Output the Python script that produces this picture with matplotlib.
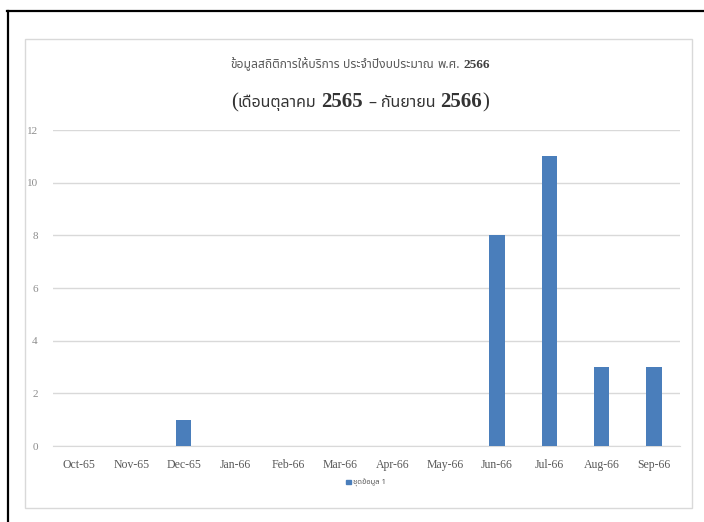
import matplotlib
matplotlib.use('Agg')
import matplotlib.pyplot as plt
from matplotlib import font_manager
from matplotlib.patches import Rectangle
from matplotlib.lines import Line2D

# ข้อมูลจากกราฟ
เดือน = ['Oct-65', 'Nov-65', 'Dec-65', 'Jan-66', 'Feb-66', 'Mar-66',
         'Apr-66', 'May-66', 'Jun-66', 'Jul-66', 'Aug-66', 'Sep-66']
จำนวน = [0, 0, 1, 0, 0, 0, 0, 0, 8, 11, 3, 3]
ชื่อชุดข้อมูล = 'ชุดข้อมูล 1'
ค่าแกนy = [0, 2, 4, 6, 8, 10, 12]
# หัวเรื่อง แยกเป็นส่วนภาษาไทยกับตัวเลข (None = ช่องว่าง)
หัวเรื่อง1 = ['ข้อมูลสถิติการให้บริการ', None, 'ประจำปีงบประมาณ', None, 'พ.ศ.', None, '2566']
หัวเรื่อง2 = ['(', 'เดือนตุลาคม', None, '2565', None, '–', None, 'กันยายน', None, '2566', ')']

# หาฟอนต์ที่มีอักษรไทย
def หาฟอนต์ไทย():
    พบ = []
    for f in font_manager.fontManager.ttflist:
        try:
            if 0x0E01 in font_manager.get_font(f.fname).get_charmap():
                พบ.append(f.name)
        except Exception:
            pass
    for ชื่อ in ['Noto Sans Thai', 'Noto Serif Thai', 'Sarabun', 'Loma', 'Garuda', 'Tlwg Typo']:
        if ชื่อ in พบ:
            return ชื่อ
    return พบ[0] if พบ else 'DejaVu Sans'

ฟอนต์ไทย = [หาฟอนต์ไทย(), 'DejaVu Sans']

fig = plt.figure(figsize=(7.04, 5.22), dpi=100)
W, H = 704, 522

def px(x, y):
    return x / W, 1 - y / H

# กรอบดำด้านบนและซ้าย
fig.add_artist(Line2D([7 / W, 1], [1 - 11 / H, 1 - 11 / H], color='black', lw=1.6, transform=fig.transFigure))
fig.add_artist(Line2D([8 / W, 8 / W], [0, 1 - 11 / H], color='black', lw=1.6, transform=fig.transFigure))
# กรอบเทาของแผนภูมิ
fig.add_artist(Rectangle(px(25, 508), (692 - 25) / W, (508 - 39) / H, fill=False,
                         edgecolor='#d9d9d9', lw=1, transform=fig.transFigure))

ax = fig.add_axes([53 / W, 1 - 446 / H, (680 - 53) / W, (446 - 130) / H])
x = range(len(เดือน))
ax.bar(x, จำนวน, width=0.3, color='#4a7ebb', zorder=3, label=ชื่อชุดข้อมูล)
ax.set_xlim(-0.5, len(เดือน) - 0.5)
ax.set_ylim(0, 12)
ax.set_yticks(ค่าแกนy)
ax.set_xticks(list(x))
ax.set_xticklabels(เดือน, fontsize=8.5, color='#595959', family='Liberation Serif')
ax.set_yticklabels([str(v) for v in ค่าแกนy], fontsize=8, color='#8c8c8c', family='Liberation Serif')
ax.tick_params(axis='y', length=0, pad=11)
ax.tick_params(axis='x', length=0, pad=9.5)
ax.grid(axis='y', color='#d9d9d9', lw=1, zorder=0)
for s in ['top', 'right', 'left']:
    ax.spines[s].set_visible(False)
ax.spines['bottom'].set_color('#d9d9d9')


# วางข้อความหลายส่วนต่อกันแล้วจัดกึ่งกลาง
def เขียนหัวเรื่อง(ส่วน, y_base, ขนาดไทย, ขนาดเลข, สีไทย, สีเลข, ช่องว่าง):
    texts = []
    for s in ส่วน:
        if s is None:
            texts.append(None)
            continue
        if s[0].isdigit():
            t = fig.text(0, 1 - y_base / H, s, va='baseline', ha='left', fontsize=ขนาดเลข,
                         family='Liberation Serif', weight='bold', color=สีเลข)
        elif s in '()':
            t = fig.text(0, 1 - y_base / H, s, va='baseline', ha='left', fontsize=ขนาดเลข,
                         family='Liberation Serif', color=สีเลข)
        else:
            t = fig.text(0, 1 - y_base / H, s, va='baseline', ha='left', fontsize=ขนาดไทย,
                         family=ฟอนต์ไทย, color=สีไทย)
        texts.append(t)
    fig.canvas.draw()
    r = fig.canvas.get_renderer()
    widths = [ช่องว่าง if t is None else t.get_window_extent(r).width for t in texts]
    xpos = 360 - sum(widths) / 2
    for t, w in zip(texts, widths):
        if t is not None:
            t.set_x(xpos / W)
        xpos += w


เขียนหัวเรื่อง(หัวเรื่อง1, 68, 8.7, 9.5, '#595959', '#404040', 3.5)
เขียนหัวเรื่อง(หัวเรื่อง2, 107, 11.5, 15, '#333333', '#333333', 5)

leg = fig.legend(handles=[Rectangle((0, 0), 1, 1, color='#4a7ebb')], labels=[ชื่อชุดข้อมูล],
                 loc='center', bbox_to_anchor=px(366, 483), frameon=False, handlelength=0.6,
                 handleheight=0.6, handletextpad=0.3, prop={'family': ฟอนต์ไทย, 'size': 5.5})
for t in leg.get_texts():
    t.set_color('#595959')

fig.savefig('out.png', dpi=100)
